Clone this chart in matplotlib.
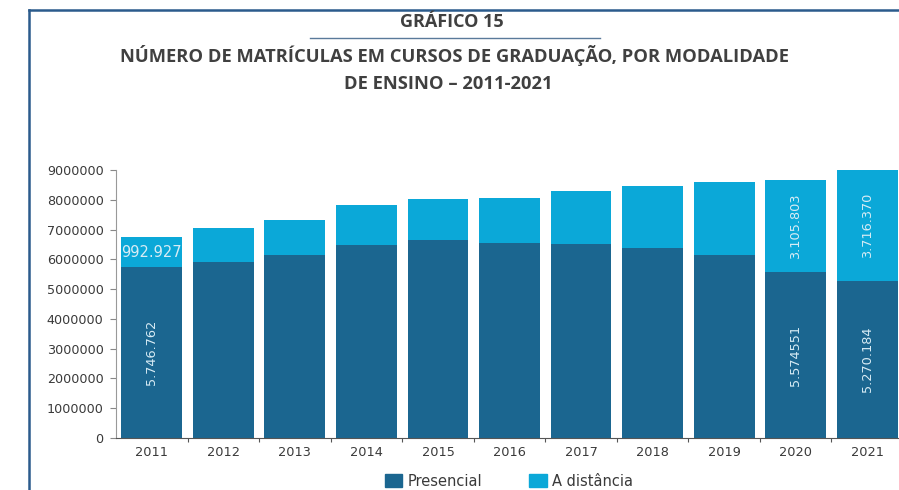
import matplotlib
matplotlib.use("Agg")
import matplotlib.pyplot as plt
from matplotlib.lines import Line2D
from matplotlib.patches import Patch

years = ["2011", "2012", "2013", "2014", "2015", "2016", "2017", "2018", "2019", "2020", "2021"]
presencial = [5746762, 5923838, 6152405, 6486171, 6633545, 6554283, 6529681, 6394244, 6153560, 5574551, 5270184]
distancia = [992927, 1113850, 1153572, 1341842, 1393752, 1494418, 1756982, 2056511, 2450264, 3105803, 3716370]
yticks = [0, 1000000, 2000000, 3000000, 4000000, 5000000, 6000000, 7000000, 8000000, 9000000]
# labels as printed in the chart
labels_pres = {0: "5.746.762", 9: "5.574551", 10: "5.270.184"}
labels_dist = {0: "992.927", 9: "3.105.803", 10: "3.716.370"}

c_pres = "#1b6690"
c_dist = "#0ba8d8"
frame_c = "#2b5b8c"
txt_c = "#3a3a3a"

fig = plt.figure(figsize=(8.99, 4.90), dpi=100)
W, H = 899, 490
ax = fig.add_axes([116 / W, 1 - 438 / H, (903 - 116) / W, (438 - 170) / H])

x = list(range(len(years)))
ax.bar(x, presencial, width=0.85, color=c_pres, zorder=2)
ax.bar(x, distancia, width=0.85, bottom=presencial, color=c_dist, zorder=2)

ax.set_xlim(-0.5, 10.5)
ax.set_ylim(0, 9000000)
ax.set_yticks(yticks)
ax.set_yticklabels([str(v) for v in yticks], fontsize=9.2, color=txt_c)
ax.set_xticks(x)
ax.set_xticklabels(years, fontsize=9.3, color=txt_c)
ax.tick_params(axis="x", length=0, pad=6)
ax.tick_params(axis="y", length=4, width=0.8, color="#888888", pad=5)
ax.set_xticks([i - 0.5 for i in range(1, 12)], minor=True)
ax.tick_params(axis="x", which="minor", length=3, width=0.8, color="#555555")
for s in ["top", "right"]:
    ax.spines[s].set_visible(False)
ax.spines["left"].set_color("#999999")
ax.spines["bottom"].set_color("#555555")
ax.spines["left"].set_linewidth(0.8)

lab_c = "#d8ecf5"
ax.text(0, presencial[0] / 2, labels_pres[0], rotation=90, ha="center", va="center",
        color=lab_c, fontsize=9.3, zorder=3)
ax.text(0, presencial[0] + distancia[0] / 2, labels_dist[0], ha="center", va="center",
        color=lab_c, fontsize=10.5, zorder=3)
for i in [9, 10]:
    ax.text(i, presencial[i] / 2, labels_pres[i], rotation=90, ha="center", va="center",
            color=lab_c, fontsize=9.3, zorder=3)
    ax.text(i, presencial[i] + distancia[i] / 2, labels_dist[i], rotation=90, ha="center",
            va="center", color=lab_c, fontsize=9.3, zorder=3)

handles = [Patch(color=c_pres, label="Presencial"), Patch(color=c_dist, label="A distância")]
fig.legend(handles=handles, loc="center", bbox_to_anchor=(509 / W, 1 - 481 / H), ncol=2,
           frameon=False, fontsize=10.5, handlelength=1.2, handleheight=1.0,
           columnspacing=3.2, handletextpad=0.4, labelcolor=txt_c, borderaxespad=0)

fig.text(452 / W, 1 - 22 / H, "GRÁFICO 15", ha="center", va="center", fontsize=13,
         fontweight="bold", color="#404040", family="Open Sans")
fig.add_artist(Line2D([310 / W, 600 / W], [1 - 38.5 / H, 1 - 38.5 / H], color="#5a7a9a", lw=1.0))
fig.text(454 / W, 1 - 55 / H, "NÚMERO DE MATRÍCULAS EM CURSOS DE GRADUAÇÃO, POR MODALIDADE",
         ha="center", va="center", fontsize=13.2, fontweight="bold", color="#404040", family="Open Sans")
fig.text(448 / W, 1 - 84 / H, "DE ENSINO – 2011-2021", ha="center", va="center", fontsize=13.2,
         fontweight="bold", color="#404040", family="Open Sans")

fig.add_artist(Line2D([28.5 / W, 28.5 / W], [0, 1 - 10.5 / H], color=frame_c, lw=1.8))
fig.add_artist(Line2D([28.5 / W, 1], [1 - 10.5 / H, 1 - 10.5 / H], color=frame_c, lw=1.8))

fig.savefig("out.png", dpi=100, facecolor="white")
